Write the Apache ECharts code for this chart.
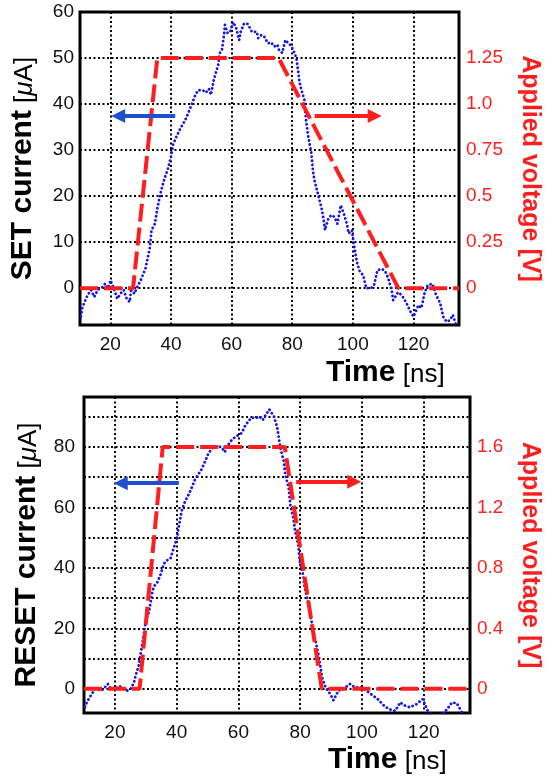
<!DOCTYPE html>
<html>
<head>
<meta charset="utf-8">
<script src="https://cdn.jsdelivr.net/npm/echarts@6/dist/echarts.min.js"></script>
<style>
  html, body { margin: 0; padding: 0; background: #fff; }
  #chart { width: 550px; height: 776px; }
</style>
</head>
<body>
<div id="chart"></div>
<script>
// ---- SET pulse: measured current (uA) vs time (ns) ----
const setTime = [10.3, 10.7, 11.5, 12.5, 13.7, 14.7, 15.8, 16.8, 17.6, 18.3, 19.3, 20.1, 21.3, 22.3, 23.3, 24.4, 25.4, 26.4, 26.9, 27.9,
  29, 30, 31.6, 32.4, 33, 33.6, 34.7, 35.5, 36.2, 36.8, 37.9, 38.9, 40, 40.7, 41.5, 43.1, 44.7, 46.3, 47.8, 48.9,
  50.5, 51.5, 52.5, 53.2, 54.1, 54.6, 55.7, 56, 56.8, 57.2, 57.5, 57.8, 58.7, 59.6, 60.4, 61.4, 62.5, 63, 64.1, 65.3,
  66.7, 68.3, 68.8, 69.8, 70.8, 72, 73, 74.1, 75.1, 75.6, 76.7, 77.7, 78.8, 79.8, 80.8, 81.4, 82.4, 82.9, 84, 84.5,
  85.2, 85.8, 86.3, 86.8, 87.3, 88.7, 89.7, 90.3, 90.8, 91.9, 92.9, 93.9, 94.9, 96, 97, 98, 98.6, 99.7, 100.2, 101.3,
  102.3, 103.4, 104.4, 106, 107, 108.1, 109.6, 110.7, 111.7, 112.8, 113.3, 114.9, 115.9, 116.9, 118, 119, 120, 121.6, 122.6, 123.7,
  124.7, 126.3, 127.3, 128.8, 129.8, 130.9, 131.9, 133, 134];
const setCurrent = [-6.1, -4.4, -3, -1.5, -0.4, -1.9, -0.4, 0, 0.3, 1, 0, 1.7, -0.4, -2.3, -1.2, -0.4, -2.3, -3, 0, -1.2,
  0.4, 1.7, 4.3, 6.8, 8.6, 12.6, 14, 17.3, 19.5, 21.3, 23.9, 25.7, 28.5, 31.2, 32.5, 34.7, 36.5, 39, 41.6, 43,
  43, 42.5, 43.3, 42, 45.2, 45.6, 48.8, 51, 51.7, 53.6, 55, 57.2, 55.4, 55.8, 57.8, 56.8, 53.9, 55.7, 57.5, 57.4,
  55.7, 55.7, 54.3, 55, 54.6, 53.2, 53.4, 52.5, 52.9, 51.8, 51.1, 53.9, 53.2, 52.5, 51, 49.9, 44.8, 43.4, 40.9, 36.8,
  33.3, 31.1, 29.4, 25.7, 23.5, 19.9, 17.3, 15.1, 12.6, 15.1, 15.9, 15.5, 14, 18, 16.2, 14, 11.9, 12.6, 10, 5.7,
  3.6, 2.8, 0, 0, 0.7, 3.9, 4.2, 3.6, 2.1, -0.5, -2.6, -0.9, -1.4, -2.3, -3.7, -5.1, -6.2, -3.7, -4.3, -0.9,
  0.7, 0.9, -1.2, -3.3, -6.2, -7.3, -7, -5.8, -8];
// SET pulse: applied voltage (V)
const setVoltTime = [10, 27.5, 35.5, 75.5, 115, 135];
const setVoltage = [0, 0, 1.25, 1.25, 0, 0];

// ---- RESET pulse: measured current (uA) vs time (ns) ----
const resetTime = [10.3, 10.9, 11.7, 12.5, 13.5, 14.5, 15.6, 16.7, 17.7, 18.7, 19.5, 20.3, 21.4, 22.2, 23, 24.1, 25.1, 26.2, 26.7, 27.7,
  28.3, 28.8, 29.4, 29.9, 30.4, 31, 31.5, 32, 32.6, 33.1, 33.8, 34.9, 35.9, 36.9, 38, 39, 40.1, 40.6, 41.1, 41.7,
  42.7, 43.8, 44.8, 45.9, 46.9, 48, 49, 50.1, 51.1, 52.2, 53.8, 54.8, 55.6, 56.4, 57.4, 58.5, 60.1, 61.1, 62.1, 63.2,
  64.2, 65.8, 66.8, 67.9, 68.9, 70, 70.5, 71.5, 72.6, 73.6, 74.7, 75.2, 76.3, 76.8, 77.8, 78.4, 79.4, 79.9, 81, 81.4,
  82.4, 83.5, 84.5, 86.1, 87.1, 88.2, 89.8, 90.8, 92.4, 94, 96.1, 97.7, 99.8, 101.4, 103, 105.1, 107.2, 108.7, 110.8, 112.4,
  114, 115.5, 117.6, 119.7, 120.8, 121.8, 123.5, 125.2, 126.5, 127.6, 129.2, 130.7, 131.8, 132.8];
const resetCurrent = [-6, -4.5, -3, -1.8, 0, -0.3, -0.6, 0.4, 1.6, 0, 0.2, 0, 1, 0.3, 0, -0.6, 0, 2.1, 4.3, 7.6,
  11.5, 14.3, 18.2, 21.5, 23.7, 25.3, 28.1, 31.5, 33.7, 34.5, 35.3, 38.1, 41.4, 42.5, 43.1, 46.4, 49.7, 53, 55.8, 59.1,
  61.9, 64.1, 66.3, 69.1, 70.8, 72.4, 74.7, 77.4, 79.1, 80.2, 80.2, 79.5, 78.3, 80.2, 81.8, 82.9, 84, 84.6, 86.8, 88.5,
  89.6, 89.6, 90.1, 88.9, 90.7, 92.4, 92.9, 90.1, 86.3, 79.6, 75.2, 70.8, 66.3, 60.8, 56.4, 51.9, 47.5, 42, 37.5, 34,
  29.2, 23.2, 18.2, 10.4, 3.8, 0.5, -1.8, -3.8, -0.6, 0, 1.6, 0.5, 0.5, -0.6, -1.8, -3.4, -5.6, -6.7, -7.3, -4.5,
  -5.6, -6.1, -5.1, -3.4, -6.1, -8.4, -10.5, -10, -8, -6.7, -4.5, -4.8, -6.7, -8.5];
// RESET pulse: applied voltage (V)
const resetVoltTime = [10, 28, 35.5, 75, 87, 135];
const resetVoltage = [0, 0, 1.6, 1.6, 0, 0];

// ---- tick labels ----
const timeTicks = [20, 40, 60, 80, 100, 120];
const setCurrentTicks = [0, 10, 20, 30, 40, 50, 60];
const setVoltTicks = [0, 0.25, 0.5, 0.75, 1.0, 1.25];
const resetCurrentTicks = [0, 20, 40, 60, 80];
const resetVoltTicks = [0, 0.4, 0.8, 1.2, 1.6];

const FONT = 'Liberation Sans, Arial, sans-serif';
const RED = '#ff1e1e';
const BLUE = '#1414e6';

function pairs(xs, ys) { return xs.map((x, i) => [x, ys[i]]); }
function onlyTicks(list, fmt) {
  return function (v) {
    const hit = list.find(t => Math.abs(t - v) < 1e-6);
    return hit === undefined ? '' : (fmt ? fmt(hit) : String(hit));
  };
}

const gridLine = { show: true, lineStyle: { color: '#000', width: 2, type: [2, 2.5] } };
const tickLabel = { fontSize: 19, color: '#111', fontFamily: FONT };

function timeAxis(gridIndex) {
  return {
    type: 'value', gridIndex, min: 10, max: 135, minInterval: 20, maxInterval: 20,
    axisLine: { show: false }, axisTick: { show: false }, splitLine: gridLine,
    axisLabel: Object.assign({ margin: 10, formatter: onlyTicks(timeTicks) }, tickLabel)
  };
}

const nameRich = {
  b: { fontSize: 30, fontWeight: 'bold', fontFamily: FONT, color: '#000', verticalAlign: 'bottom' },
  r: { fontSize: 26, fontWeight: 'normal', fontFamily: FONT, color: '#000', verticalAlign: 'bottom' },
  i: { fontSize: 26, fontWeight: 'normal', fontStyle: 'italic', fontFamily: FONT, color: '#000', verticalAlign: 'bottom' }
};

function currentAxis(gridIndex, name, min, max, ticks, margin) {
  return {
    type: 'value', gridIndex, position: 'left', min, max, minInterval: 10, maxInterval: 10,
    axisLine: { show: false }, axisTick: { show: false }, splitLine: gridLine,
    axisLabel: Object.assign({ margin, formatter: onlyTicks(ticks) }, tickLabel),
    name, nameLocation: 'middle', nameRotate: 90, nameGap: 42,
    nameTextStyle: { fontSize: 26, fontWeight: 'normal', fontFamily: FONT, rich: nameRich }
  };
}

function voltAxis(gridIndex, min, max, step, ticks, fmt, gap) {
  return {
    type: 'value', gridIndex, position: 'right', min, max, minInterval: step, maxInterval: step,
    axisLine: { show: false }, axisTick: { show: false }, splitLine: { show: false },
    axisLabel: Object.assign({}, tickLabel, { color: RED, margin: 7, formatter: onlyTicks(ticks, fmt) }),
    name: 'Applied voltage [V]', nameLocation: 'middle', nameRotate: -90, nameGap: gap,
    nameTextStyle: { fontSize: 25, fontWeight: 'bold', color: RED, fontFamily: FONT }
  };
}

function arrow(color, from, to) {
  return {
    silent: true, animation: false, symbol: ['none', 'triangle'], symbolSize: [14, 14],
    label: { show: false },
    lineStyle: { color, width: 4, type: 'solid' },
    data: [[{ coord: from }, { coord: to }]]
  };
}

const currentStyle = { color: BLUE, width: 2.8, type: [0.1, 4], cap: 'round' };
const voltStyle = { color: RED, width: 4, type: [18, 6] };

const option = {
  backgroundColor: '#fff',
  animation: false,
  title: [
    { text: '{b|Time} {r|[ns]}', left: 326, top: 358, padding: 0,
      textStyle: { fontSize: 26, fontWeight: 'normal', fontFamily: FONT, rich: nameRich } },
    { text: '{b|Time} {r|[ns]}', left: 328, top: 745, padding: 0,
      textStyle: { fontSize: 26, fontWeight: 'normal', fontFamily: FONT, rich: nameRich } }
  ],
  grid: [
    { left: 78, top: 12, right: 75, bottom: 451, show: true, borderColor: '#000', borderWidth: 3 },
    { left: 84, top: 397, right: 68, bottom: 63, show: true, borderColor: '#000', borderWidth: 3 }
  ],
  xAxis: [timeAxis(0), timeAxis(1)],
  yAxis: [
    currentAxis(0, '{b|SET current} {r|[}{i|\u03bc}{r|A]}', -8, 60, setCurrentTicks, 6),
    voltAxis(0, -0.2, 1.5, 0.25, setVoltTicks, v => (v === 1 ? '1.0' : String(v)), 58),
    currentAxis(1, '{b|RESET current} {r|[}{i|\u03bc}{r|A]}', -8, 96.5, resetCurrentTicks, 9),
    voltAxis(1, -0.16, 1.93, 0.2, resetVoltTicks, null, 47)
  ],
  series: [
    { name: 'SET current', type: 'line', xAxisIndex: 0, yAxisIndex: 0, showSymbol: false,
      data: pairs(setTime, setCurrent), lineStyle: currentStyle,
      markLine: arrow('#1f4fd0', [41.4, 37.4], [22.6, 37.4]) },
    { name: 'SET voltage', type: 'line', xAxisIndex: 0, yAxisIndex: 1, showSymbol: false,
      data: pairs(setVoltTime, setVoltage), lineStyle: voltStyle,
      markLine: arrow(RED, [87.4, 0.935], [107.2, 0.935]) },
    { name: 'RESET current', type: 'line', xAxisIndex: 1, yAxisIndex: 2, showSymbol: false,
      data: pairs(resetTime, resetCurrent), lineStyle: currentStyle,
      markLine: arrow('#1f4fd0', [40.7, 68], [21.9, 68]) },
    { name: 'RESET voltage', type: 'line', xAxisIndex: 1, yAxisIndex: 3, showSymbol: false,
      data: pairs(resetVoltTime, resetVoltage), lineStyle: voltStyle,
      markLine: arrow(RED, [78.7, 1.37], [97.5, 1.37]) }
  ]
};

const chart = echarts.init(document.getElementById('chart'), null, { renderer: 'canvas' });
chart.setOption(option);
</script>
</body>
</html>
